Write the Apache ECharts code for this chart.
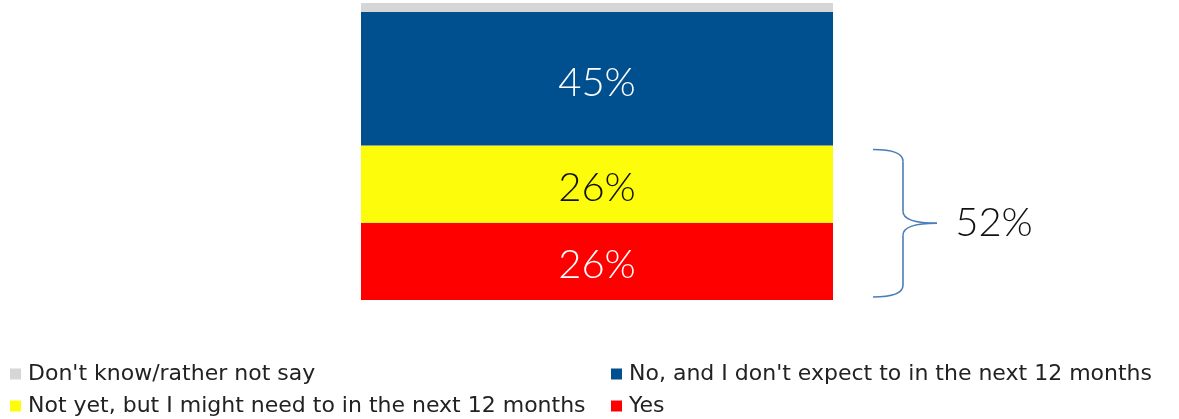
<!DOCTYPE html>
<html>
<head>
<meta charset="utf-8">
<script src="https://cdn.jsdelivr.net/npm/echarts@6/dist/echarts.min.js"></script>
<style>
  html, body { margin: 0; padding: 0; background: #fff; }
  #chart { width: 1179px; height: 419px; }
</style>
</head>
<body>
<div id="chart"></div>
<script>
// Survey answers, one stacked column (bottom to top)
const categories = ['All respondents'];
const seriesNames = [
  'Yes',
  'Not yet, but I might need to in the next 12 months',
  'No, and I don\'t expect to in the next 12 months',
  'Don\'t know/rather not say'
];
const yesValues = [26];
const notYetValues = [26];
const noValues = [45];
const dontKnowValues = [3];
const seriesColors = ['#ff0000', '#fdfc0a', '#00508f', '#d6d6d6'];
const labelColors = ['#ffffff', '#111111', '#ffffff', '#ffffff'];

const valueSets = [yesValues, notYetValues, noValues, dontKnowValues];
const numFont = 'Lato';
const legendFont = 'DejaVu Sans';

const chart = echarts.init(document.getElementById('chart'));

const series = seriesNames.map((name, i) => ({
  name: name,
  type: 'bar',
  stack: 'total',
  data: valueSets[i],
  barWidth: '100%',
  itemStyle: { color: seriesColors[i] },
  label: {
    show: i < 3,
    position: 'inside',
    offset: [0, 4],
    formatter: '{c}%',
    color: labelColors[i],
    fontFamily: numFont,
    fontSize: 40,
    fontWeight: 300
  },
  emphasis: { disabled: true }
}));

// Legend laid out in two rows of two entries
const legendSpots = [
  { name: seriesNames[3], left: 10, top: 363 },
  { name: seriesNames[2], left: 611, top: 363 },
  { name: seriesNames[1], left: 10, top: 395 },
  { name: seriesNames[0], left: 611, top: 395 }
];

chart.setOption({
  animation: false,
  grid: { left: 361, width: 472, top: 3, bottom: 119 },
  xAxis: { type: 'category', data: categories, show: false },
  yAxis: { type: 'value', min: 0, max: 100, show: false },
  legend: legendSpots.map(s => ({
    data: [s.name],
    left: s.left,
    top: s.top,
    icon: 'rect',
    itemWidth: 11,
    itemHeight: 11,
    padding: 0,
    textStyle: { fontFamily: legendFont, fontSize: 22, color: '#222', padding: [0, 0, 0, 2] },
    selectedMode: false
  })),
  series: series
});

// Brace grouping the two lower segments, with their combined share
const groupTotal = yesValues[0] + notYetValues[0];
const pBottom = chart.convertToPixel({ gridIndex: 0 }, [0, 0]);
const pTop = chart.convertToPixel({ gridIndex: 0 }, [0, groupTotal]);
const barRight = 833;
const xa = barRight + 40, xb = barRight + 70, xt = barRight + 104;
const yTop = pTop[1] + 4, yBot = pBottom[1] - 3;
const yMid = (yTop + yBot) / 2;
const r = 12;
const braceStyle = { stroke: '#4a7ebb', lineWidth: 1.6, fill: null };
const curve = (x1, y1, cx, cy, x2, y2) => ({
  type: 'bezierCurve',
  shape: { x1: x1, y1: y1, cpx1: cx, cpy1: cy, x2: x2, y2: y2 },
  style: braceStyle
});
const seg = (x1, y1, x2, y2) => ({
  type: 'line',
  shape: { x1: x1, y1: y1, x2: x2, y2: y2 },
  style: braceStyle
});

chart.setOption({
  graphic: [
    curve(xa, yTop, xb, yTop, xb, yTop + r),
    seg(xb, yTop + r, xb, yMid - r),
    curve(xb, yMid - r, xb, yMid, xt, yMid),
    curve(xt, yMid, xb, yMid, xb, yMid + r),
    seg(xb, yMid + r, xb, yBot - r),
    curve(xb, yBot - r, xb, yBot, xa, yBot),
    {
      type: 'text',
      x: 994,
      y: yMid,
      style: {
        text: groupTotal + '%',
        fontFamily: numFont,
        fontSize: 40,
        fontWeight: 300,
        fill: '#111',
        align: 'center',
        verticalAlign: 'middle'
      }
    }
  ]
});
</script>
</body>
</html>
